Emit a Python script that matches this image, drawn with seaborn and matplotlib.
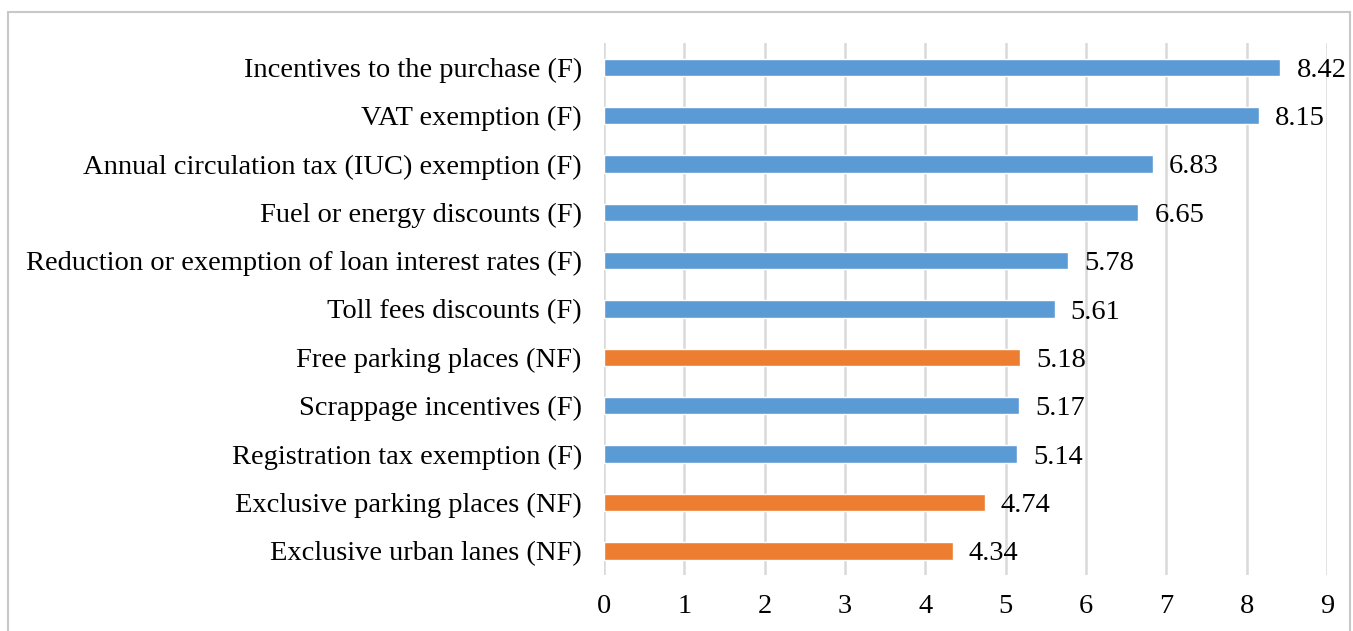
import seaborn as sns
import pandas as pd
import matplotlib.pyplot as plt
from matplotlib.patches import Rectangle

# Chart data, top to bottom
measures = ["Incentives to the purchase (F)", "VAT exemption (F)",
            "Annual circulation tax (IUC) exemption (F)", "Fuel or energy discounts (F)",
            "Reduction or exemption of loan interest rates (F)", "Toll fees discounts (F)",
            "Free parking places (NF)", "Scrappage incentives (F)",
            "Registration tax exemption (F)", "Exclusive parking places (NF)",
            "Exclusive urban lanes (NF)"]
scores = [8.42, 8.15, 6.83, 6.65, 5.78, 5.61, 5.18, 5.17, 5.14, 4.74, 4.34]
kind = ["F", "F", "F", "F", "F", "F", "NF", "F", "F", "NF", "NF"]
x_ticks = list(range(0, 10))

df = pd.DataFrame({"measure": measures, "score": scores, "kind": kind})

sns.set_style("white")
plt.rcParams["font.family"] = ["Liberation Serif", "DejaVu Serif"]

fig = plt.figure(figsize=(13.53, 6.31), dpi=100)
ax = fig.add_axes([0.4464, 0.0887, 0.5344, 0.843])

sns.barplot(data=df, x="score", y="measure", hue="kind",
            palette={"F": "#5B9BD5", "NF": "#ED7D31"}, saturation=1,
            width=0.36, dodge=False, legend=False, ax=ax)

for i, v in enumerate(scores):
    ax.text(v + 0.2, i, f"{v:.2f}", va="center_baseline", ha="left",
            fontsize=20.5, color="black")

ax.set_xlim(0, 9)
ax.set_ylim(len(measures) - 0.5, -0.5)
ax.set_xticks(x_ticks)
ax.xaxis.grid(True, color="#D9D9D9", linewidth=1.8)
ax.set_axisbelow(True)
ax.set_xlabel("")
ax.set_ylabel("")
ax.tick_params(axis="both", length=0, labelsize=20.5, colors="black")
ax.tick_params(axis="x", pad=14)
ax.tick_params(axis="y", pad=16)
for s in ax.spines.values():
    s.set_visible(False)

# light frame around the chart area
fig.patches.append(Rectangle((8 / 1353, -0.1), 1342 / 1353, 1 - 12 / 631 + 0.1,
                             transform=fig.transFigure, fill=False,
                             edgecolor="#C8C8C8", linewidth=1.5))

fig.savefig("out.png", dpi=100)
